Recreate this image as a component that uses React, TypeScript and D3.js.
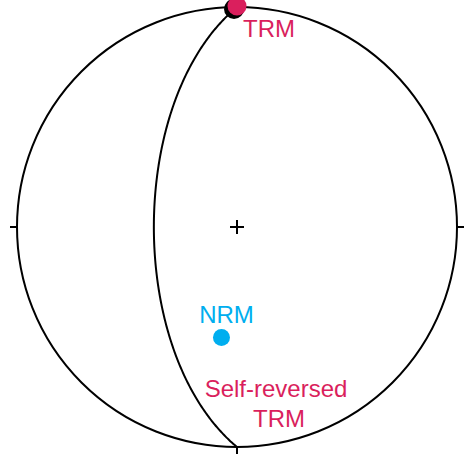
import React, { useEffect, useRef } from "react";
import * as d3 from "d3";

// plane (great circle) and the two remanence directions, lower hemisphere
const planeStrike = [180];
const planeDip = [59];
const pointNames = ["TRM", "NRM"];
const pointTrend = [0, 188];
const pointPlunge = [0, 48];
const pointColors = ["#da1f5d", "#00aeef"];

const W = 466;
const H = 465;
const cx = 237;
const cy = 227;
const R = 220;
const tick = 7;
const font = "Liberation Sans, Arial, Helvetica, sans-serif";

const rad = (d: number) => (d * Math.PI) / 180;

// Schmidt equal-area projection, returns unit coords (north up)
function project(trend: number, plunge: number): [number, number] {
  const r = Math.SQRT2 * Math.sin(rad(90 - plunge) / 2);
  return [r * Math.sin(rad(trend)), r * Math.cos(rad(trend))];
}

function greatCircle(strike: number, dip: number): [number, number][] {
  const dd = strike + 90;
  const pts: [number, number][] = [];
  for (let t = 0; t <= 180; t += 1) {
    const c = Math.cos(rad(t));
    const s = Math.sin(rad(t));
    const n = c * Math.cos(rad(strike)) + s * Math.cos(rad(dd)) * Math.cos(rad(dip));
    const e = c * Math.sin(rad(strike)) + s * Math.sin(rad(dd)) * Math.cos(rad(dip));
    const d = s * Math.sin(rad(dip));
    const trend = (Math.atan2(e, n) * 180) / Math.PI;
    const plunge = (Math.asin(Math.max(-1, Math.min(1, d))) * 180) / Math.PI;
    pts.push(project(trend, plunge));
  }
  return pts;
}

export default function App() {
  const ref = useRef<SVGSVGElement>(null);

  useEffect(() => {
    const svg = d3.select(ref.current);
    svg.selectAll("*").remove();

    const x = d3.scaleLinear().domain([-1, 1]).range([cx - R, cx + R]);
    const y = d3.scaleLinear().domain([-1, 1]).range([cy + R, cy - R]);

    // primitive circle
    svg
      .append("circle")
      .attr("cx", x(0))
      .attr("cy", y(0))
      .attr("r", x(1) - x(0))
      .attr("fill", "none")
      .attr("stroke", "#000")
      .attr("stroke-width", 2);

    // ticks at N, E, S, W
    const ticks = [
      [x(0), y(1), x(0), y(1) - tick],
      [x(1), y(0), x(1) + tick, y(0)],
      [x(0), y(-1), x(0), y(-1) + tick],
      [x(-1), y(0), x(-1) - tick, y(0)],
    ];
    svg
      .selectAll("line.tick")
      .data(ticks)
      .join("line")
      .attr("class", "tick")
      .attr("x1", (d) => d[0])
      .attr("y1", (d) => d[1])
      .attr("x2", (d) => d[2])
      .attr("y2", (d) => d[3])
      .attr("stroke", "#000")
      .attr("stroke-width", 2);

    // centre cross
    const cross = [
      [x(0) - tick, y(0), x(0) + tick, y(0)],
      [x(0), y(0) - tick, x(0), y(0) + tick],
    ];
    svg
      .selectAll("line.cross")
      .data(cross)
      .join("line")
      .attr("class", "cross")
      .attr("x1", (d) => d[0])
      .attr("y1", (d) => d[1])
      .attr("x2", (d) => d[2])
      .attr("y2", (d) => d[3])
      .attr("stroke", "#000")
      .attr("stroke-width", 2);

    // great circle
    const line = d3
      .line<[number, number]>()
      .x((d) => x(d[0]))
      .y((d) => y(d[1]))
      .curve(d3.curveCatmullRom);
    planeStrike.forEach((s, i) => {
      svg
        .append("path")
        .attr("d", line(greatCircle(s, planeDip[i])))
        .attr("fill", "none")
        .attr("stroke", "#000")
        .attr("stroke-width", 2);
    });

    // points
    const pts = pointNames.map((name, i) => {
      const p = project(pointTrend[i], pointPlunge[i]);
      return { name, px: x(p[0]), py: y(p[1]), color: pointColors[i] };
    });

    const trm = pts[0];
    svg
      .append("circle")
      .attr("cx", trm.px - 3)
      .attr("cy", trm.py + 2)
      .attr("r", 10)
      .attr("fill", "#000");
    svg
      .append("circle")
      .attr("cx", trm.px)
      .attr("cy", trm.py - 1)
      .attr("r", 9.5)
      .attr("fill", trm.color);
    svg
      .append("text")
      .attr("x", trm.px + 6)
      .attr("y", trm.py + 30)
      .attr("font-family", font)
      .attr("font-size", 24)
      .attr("fill", trm.color)
      .text("TRM");

    const nrm = pts[1];
    svg
      .append("circle")
      .attr("cx", nrm.px)
      .attr("cy", nrm.py)
      .attr("r", 8.5)
      .attr("fill", nrm.color);
    svg
      .append("text")
      .attr("x", nrm.px + 5)
      .attr("y", nrm.py - 14)
      .attr("text-anchor", "middle")
      .attr("font-family", font)
      .attr("font-size", 24)
      .attr("fill", nrm.color)
      .text("NRM");

    // self-reversed label
    const lab = svg
      .append("text")
      .attr("text-anchor", "middle")
      .attr("font-family", font)
      .attr("font-size", 24)
      .attr("fill", pointColors[0]);
    lab.append("tspan").attr("x", 276).attr("y", 397).text("Self-reversed");
    lab.append("tspan").attr("x", 279).attr("y", 427).text("TRM");
  }, []);

  return (
    <svg
      ref={ref}
      width={W}
      height={H}
      style={{ position: "absolute", left: 0, top: 0, background: "#fff" }}
    />
  );
}
